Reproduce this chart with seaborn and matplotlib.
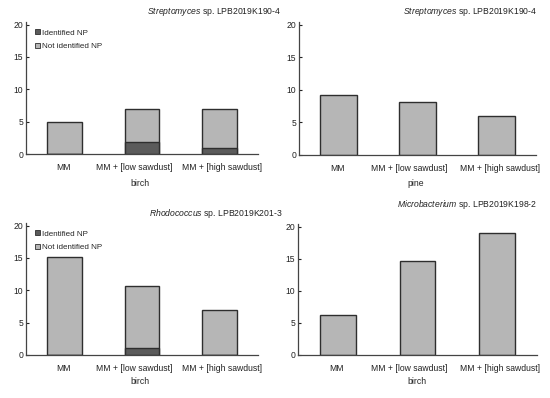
import matplotlib
matplotlib.use("Agg")
import matplotlib.pyplot as plt
import matplotlib.transforms as mtransforms
from matplotlib.patches import Patch
import seaborn as sns
import pandas as pd

sns.set_theme(style="white")
plt.rcParams['font.family'] = ['Liberation Sans', 'DejaVu Sans']
plt.rcParams['mathtext.fontset'] = 'custom'
plt.rcParams['mathtext.it'] = 'Liberation Sans:italic'
plt.rcParams['mathtext.rm'] = 'Liberation Sans'

categories = ["MM", "MM + [low sawdust]", "MM + [high sawdust]"]

p1_total = [5.0, 7.0, 6.9]
p1_ident = [0.0, 1.9, 0.9]
p2_total = [9.2, 8.2, 6.0]
p3_total = [15.2, 10.6, 7.0]
p3_ident = [0.0, 1.1, 0.0]
p4_total = [6.2, 14.6, 19.0]

genera = ["Streptomyces", "Streptomyces", "Rhodococcus", "Microbacterium"]
strains = [" sp. LPB2019K190-4", " sp. LPB2019K190-4", " sp. LPB2019K201-3", " sp. LPB2019K198-2"]
wood = ["birch", "pine", "birch", "birch"]
yticks = [0, 5, 10, 15, 20]
legend_labels = ["Identified NP", "Not identified NP"]

LIGHT = "#b6b6b6"
DARK = "#5b5b5b"
EDGE = "#2e2e2e"
FS = 6.2

W, H = 550, 398
fig = plt.figure(figsize=(5.5, 3.98), dpi=100)

def px_axes(x0, y0, x1, y1):
    return fig.add_axes([x0 / W, (H - y1) / H, (x1 - x0) / W, (y1 - y0) / H])

label_shift_px = [-1, -8, 3]

panels = [
    dict(box=(26, 22, 258, 154), total=p1_total, ident=p1_ident, width=0.45,
         title_xy=(281, 12), label_xy=(140, 183), legend=True),
    dict(box=(299, 22, 536, 155), total=p2_total, ident=None, width=0.47,
         title_xy=(537, 12), label_xy=(416, 183), legend=False),
    dict(box=(26, 223, 258, 355), total=p3_total, ident=p3_ident, width=0.45,
         title_xy=(282, 213), label_xy=(140, 381), legend=True),
    dict(box=(298, 224, 537, 355), total=p4_total, ident=None, width=0.45,
         title_xy=(537, 205), label_xy=(417, 382), legend=False),
]

for i, p in enumerate(panels):
    ax = px_axes(*p["box"])
    df = pd.DataFrame({"cat": categories, "total": p["total"]})
    sns.barplot(data=df, x="cat", y="total", order=categories, color=LIGHT,
                saturation=1, width=p["width"], edgecolor=EDGE, linewidth=1.0, ax=ax)
    if p["ident"] is not None:
        dfi = pd.DataFrame({"cat": categories, "ident": p["ident"]})
        sns.barplot(data=dfi, x="cat", y="ident", order=categories, color=DARK,
                    saturation=1, width=p["width"], edgecolor=EDGE, linewidth=1.0, ax=ax)
    ax.set_xlim(-0.5, 2.5)
    ax.set_ylim(0, 20.4)
    ax.set_yticks(yticks)
    ax.set_yticklabels([str(t) for t in yticks])
    ax.set_xlabel("")
    ax.set_ylabel("")
    for s in ["top", "right"]:
        ax.spines[s].set_visible(False)
    for s in ["left", "bottom"]:
        ax.spines[s].set_color("#444444")
        ax.spines[s].set_linewidth(0.9)
    ax.tick_params(axis="y", which="both", left=True, length=2, width=0.8,
                   direction="in", pad=2, labelsize=FS, colors="#222222")
    ax.tick_params(axis="x", bottom=False, length=0, pad=6.5, labelsize=FS, colors="#222222")
    for lab, dx in zip(ax.get_xticklabels(), label_shift_px):
        off = mtransforms.ScaledTranslation(dx / 100.0, 0, fig.dpi_scale_trans)
        lab.set_transform(lab.get_transform() + off)
    ax.set_facecolor("white")

    tx, ty = p["title_xy"]
    fig.text(tx / W, 1 - ty / H, "$\\it{" + genera[i] + "}$" + strains[i],
             ha="right", va="center", fontsize=FS, color="#222222")
    lx, ly = p["label_xy"]
    fig.text(lx / W, 1 - ly / H, wood[i], ha="center", va="center",
             fontsize=FS, color="#222222")

    if p["legend"]:
        handles = [Patch(facecolor=DARK, edgecolor=EDGE, linewidth=0.6),
                   Patch(facecolor=LIGHT, edgecolor=EDGE, linewidth=0.6)]
        ax.legend(handles, legend_labels, loc="upper left", bbox_to_anchor=(0.02, 0.98),
                  frameon=False, fontsize=5.8, handlelength=0.55, handleheight=0.55,
                  handletextpad=0.3, labelspacing=0.75, borderaxespad=0.2)

fig.savefig("out.png", dpi=100, facecolor="white")
